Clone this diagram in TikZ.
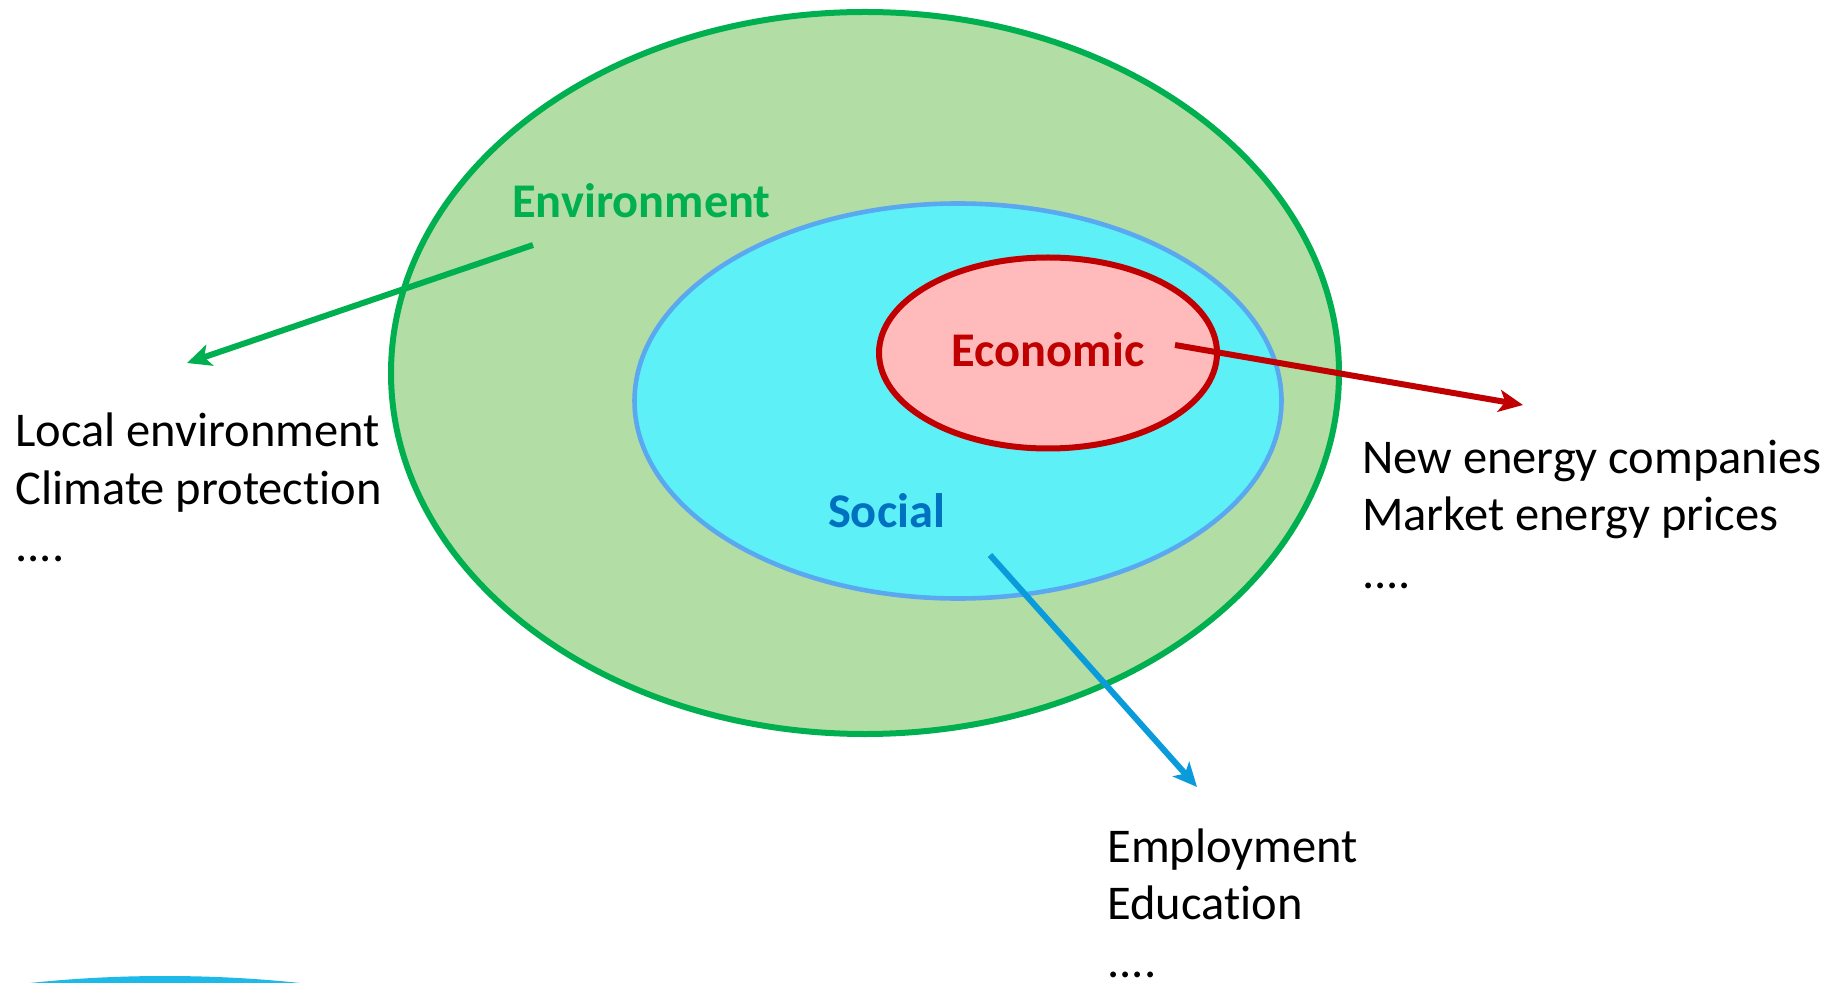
\documentclass[tikz,border=0pt]{standalone}
\usepackage{fontspec}
\setmainfont{Carlito}[Ligatures=NoCommon]
\usetikzlibrary{arrows.meta}
\definecolor{envgreen}{HTML}{00B050}
\definecolor{envfill}{HTML}{B2DEA5}
\definecolor{socfill}{HTML}{5EF0F7}
\definecolor{socline}{HTML}{5AA8F0}
\definecolor{ecofill}{HTML}{FFBBBB}
\definecolor{ecoline}{HTML}{C00000}
\definecolor{socblue}{HTML}{0070C0}
\definecolor{arrowblue}{HTML}{0A9BDB}
\definecolor{deco}{HTML}{1CB9E9}
\begin{document}
\begin{tikzpicture}[x=0.5pt,y=-0.5pt,
  body/.style={font=\fontsize{24.25}{28.75}\selectfont, align=left, inner sep=0pt},
  lbl/.style={font=\fontsize{24.2}{28}\selectfont\bfseries, inner sep=0pt},
  conn/.style={line width=3pt, -{Stealth[length=12pt,width=11pt,inset=3pt]}}]
\useasboundingbox (0,0) rectangle (1829,983);
\fill[white] (0,0) rectangle (1829,983);
\begin{scope}
  \clip (0,0) rectangle (1829,983);
  \fill[deco] (165,1176) ellipse [x radius=513, y radius=200];
\end{scope}
% circles
\filldraw[fill=envfill, draw=envgreen, line width=3pt] (865,373) ellipse [x radius=474, y radius=361];
\filldraw[fill=socfill, draw=socline, line width=2.3pt] (958,401) ellipse [x radius=323.5, y radius=197.5];
\filldraw[fill=ecofill, draw=ecoline, line width=3pt] (1048,353) ellipse [x radius=169, y radius=95.5];
% labels
\node[lbl, text=envgreen, anchor=base] (env) at (641.5,218) {Environment};
\node[lbl, text=ecoline, anchor=base] (eco) at (1048,367) {Economic};
\node[lbl, text=socblue, anchor=base] (soc) at (886.5,527) {Social};
% text blocks (anchor at baseline of last line)
\node[body, anchor=base west] (envtxt) at (15,561.7) {Local environment\\Climate protection\\....};
\node[body, anchor=base west] (ecotxt) at (1361.7,588) {New energy companies\\Market energy prices\\....};
\node[body, anchor=base west] (soctxt) at (1107,977) {Employment\\Education\\....};
% arrows
\coordinate (envstart) at (533,245);
\coordinate (envend) at (187,363);
\coordinate (ecostart) at (1175,345);
\coordinate (ecoend) at (1523,405);
\coordinate (socstart) at (990,555);
\coordinate (socend) at (1197,787);
\draw[conn, envgreen] (envstart) -- (envend);
\draw[conn, ecoline] (ecostart) -- (ecoend);
\draw[conn, arrowblue] (socstart) -- (socend);
\end{tikzpicture}
\end{document}
